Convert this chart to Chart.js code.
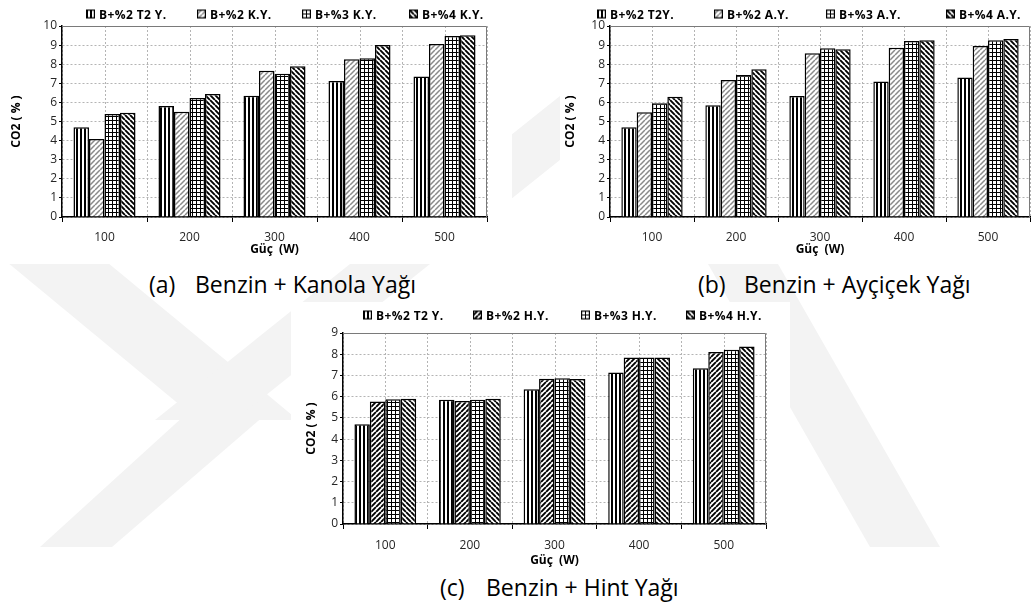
<!DOCTYPE html>
<html lang="tr">
<head>
<meta charset="utf-8">
<title>CO2 (%) - Güç (W)</title>
<script src="https://cdn.jsdelivr.net/npm/chart.js@4.4.1/dist/chart.umd.min.js"></script>
<style>
    html, body { margin: 0; padding: 0; }
    body {
        width: 1035px; height: 610px; position: relative; overflow: hidden;
        background: #fff; font-family: 'Open Sans', sans-serif; color: #000;
    }
    #watermark { position: absolute; left: 0; top: 0; }
    .panel { position: absolute; background: #fff; }
    .legend { position: absolute; left: 0; top: 0; width: 0; height: 0; }
    .legend span {
        position: absolute; display: flex; align-items: center; white-space: nowrap;
        font-size: 12px; font-weight: bold; letter-spacing: 0.4px; transform: translateY(-50%);
    }
    .legend canvas { margin-right: 4px; }
    .caption { position: absolute; font-size: 23px; white-space: nowrap; transform: translateY(-50%); }
</style>
</head>
<body>

<svg id="watermark" width="1035" height="610">
    <g fill="#f3f3f3">
        <polygon points="-310,0 -210,0 298,420 198,420"/>
        <polygon points="680,0 760,0 235,420 155,420"/>
        <polygon points="185,415 265,415 112,547 40,547"/>
        <polygon points="700,250 770,250 940,547 870,547"/>
    </g>
</svg>

<div class="panel" style="left:0;top:0;width:512px;height:264px"><canvas id="chart-a" width="512" height="264"></canvas></div>
<div class="panel" style="left:560px;top:0;width:475px;height:264px"><canvas id="chart-b" width="475" height="264"></canvas></div>
<div class="panel" style="left:291px;top:302px;width:499px;height:266px"><canvas id="chart-c" width="499" height="266"></canvas></div>

<div class="legend" id="legend-a"></div>
<div class="legend" id="legend-b"></div>
<div class="legend" id="legend-c"></div>

<span class="caption" style="left:149px;top:284px">(a)</span>
<span class="caption" style="left:195px;top:284px">Benzin + Kanola Yağı</span>
<span class="caption" style="left:698px;top:284px">(b)</span>
<span class="caption" style="left:744px;top:284px">Benzin + Ayçiçek Yağı</span>
<span class="caption" style="left:440px;top:587px">(c)</span>
<span class="caption" style="left:486px;top:587px">Benzin + Hint Yağı</span>

<script>
// --- Veriler (CO2 %) ---
const categories = ["100", "200", "300", "400", "500"];

const kanolaLabels = ["B+%2 T2 Y.", "B+%2 K.Y.", "B+%3 K.Y.", "B+%4 K.Y."];
const kanolaT2 = [4.70, 5.81, 6.35, 7.12, 7.35];
const kanola2 = [4.08, 5.51, 7.66, 8.26, 9.06];
const kanola3 = [5.39, 6.23, 7.50, 8.31, 9.48];
const kanola4 = [5.46, 6.44, 7.89, 9.00, 9.51];

const aycicekLabels = ["B+%2 T2Y.", "B+%2 A.Y.", "B+%3 A.Y.", "B+%4 A.Y."];
const aycicekT2 = [4.70, 5.85, 6.34, 7.10, 7.31];
const aycicek2 = [5.48, 7.17, 8.57, 8.86, 8.95];
const aycicek3 = [5.95, 7.43, 8.83, 9.21, 9.25];
const aycicek4 = [6.30, 7.73, 8.78, 9.25, 9.32];

const hintLabels = ["B+%2 T2 Y.", "B+%2 H.Y.", "B+%3 H.Y.", "B+%4 H.Y."];
const hintT2 = [4.70, 5.85, 6.35, 7.14, 7.34];
const hint2 = [5.77, 5.80, 6.84, 7.85, 8.10];
const hint3 = [5.88, 5.85, 6.87, 7.85, 8.21];
const hint4 = [5.90, 5.90, 6.83, 7.85, 8.36];

const yTicksAB = [0, 10];
const yTicksC = [0, 9];

Chart.defaults.font.family = "'Open Sans', sans-serif";

// --- Desenler (Excel tarzı tarama) ---
function makePattern(kind) {
    const c = document.createElement("canvas");
    const s = (kind === "vert" || kind === "grid") ? 4 : 5;
    c.width = s;
    c.height = s;
    const g = c.getContext("2d");
    g.fillStyle = "#fff";
    g.fillRect(0, 0, s, s);
    g.fillStyle = "#000";
    if (kind === "vert") {
        g.fillRect(0, 0, 2, s);
    } else if (kind === "grid") {
        g.fillRect(0, 0, s, 1);
        g.fillRect(0, 0, 1, s);
    } else {
        g.strokeStyle = kind === "greySlash" ? "#8a8a8a" : "#000";
        g.lineWidth = kind === "greySlash" ? 1.5 : 1.9;
        g.beginPath();
        for (const o of [-s, 0, s]) {
            if (kind === "back") {
                g.moveTo(o, 0);
                g.lineTo(o + s, s);
            } else {
                g.moveTo(o, s);
                g.lineTo(o + s, 0);
            }
        }
        g.stroke();
    }
    return g.createPattern(c, "repeat");
}

// ara dikey kılavuz çizgileri + üst/sağ çerçeve
const framePlugin = {
    id: "frame",
    beforeDatasetsDraw(chart) {
        const { ctx, chartArea: a, scales: { x } } = chart;
        ctx.save();
        ctx.strokeStyle = "#b4b4b4";
        ctx.lineWidth = 1;
        ctx.setLineDash([2, 2]);
        chart.data.labels.forEach((l, i) => {
            const px = Math.round(x.getPixelForValue(i)) + 0.5;
            ctx.beginPath();
            ctx.moveTo(px, a.top);
            ctx.lineTo(px, a.bottom);
            ctx.stroke();
        });
        ctx.restore();
    },
    afterDatasetsDraw(chart) {
        const { ctx, chartArea: a } = chart;
        ctx.save();
        ctx.strokeStyle = "#7a7a7a";
        ctx.lineWidth = 1;
        ctx.beginPath();
        ctx.moveTo(a.left, Math.round(a.top) + 0.5);
        ctx.lineTo(Math.round(a.right) - 0.5, Math.round(a.top) + 0.5);
        ctx.lineTo(Math.round(a.right) - 0.5, a.bottom);
        ctx.stroke();
        ctx.restore();
    }
};

function buildLegend(id, labels, patterns, lefts, top) {
    const box = document.getElementById(id);
    labels.forEach((text, i) => {
        const item = document.createElement("span");
        item.style.left = lefts[i] + "px";
        item.style.top = top + "px";
        const sw = document.createElement("canvas");
        sw.width = 9;
        sw.height = 9;
        const g = sw.getContext("2d");
        g.fillStyle = patterns[i];
        g.fillRect(0, 0, 9, 9);
        g.strokeStyle = "#000";
        g.lineWidth = 1.2;
        g.strokeRect(0.6, 0.6, 7.8, 7.8);
        item.appendChild(sw);
        item.appendChild(document.createTextNode(text));
        box.appendChild(item);
    });
}

function makeChart(id, labels, series, patterns, yRange, lay) {
    const datasets = series.map((values, i) => ({
        label: labels[i],
        data: values,
        backgroundColor: patterns[i],
        borderColor: "#000",
        borderWidth: 1.5,
        categoryPercentage: 0.73,
        barPercentage: 1.0
    }));

    return new Chart(document.getElementById(id), {
        type: "bar",
        data: { labels: categories, datasets: datasets },
        options: {
            responsive: false,
            animation: false,
            layout: { padding: { top: lay.top, right: lay.right, bottom: 0, left: 0 } },
            plugins: { legend: { display: false }, tooltip: { enabled: false } },
            scales: {
                x: {
                    offset: true,
                    grid: { offset: true, color: "#b4b4b4", tickColor: "#000", tickLength: 5 },
                    border: { color: "#000", width: 1.5, dash: [2, 2] },
                    ticks: { color: "#262626", font: { size: 12 }, padding: lay.xPad },
                    title: {
                        display: true, text: "Güç  (W)", color: "#000",
                        font: { size: 12, weight: "bold" },
                        padding: { top: 0, bottom: lay.xTitlePad }
                    },
                    afterFit: (scale) => { scale.height = lay.xHeight; }
                },
                y: {
                    min: yRange[0],
                    max: yRange[1],
                    grid: { color: "#b4b4b4", tickColor: "#000", tickLength: 3 },
                    border: { color: "#000", width: 1.5, dash: [2, 2] },
                    ticks: { stepSize: 1, color: "#262626", font: { size: 12 }, padding: 2 },
                    title: {
                        display: true, text: "CO2 ( % )", color: "#000",
                        font: { size: 12, weight: "bold" },
                        padding: { top: lay.yTitlePad, bottom: 0 }
                    },
                    afterFit: (scale) => { scale.width = lay.yWidth; }
                }
            }
        },
        plugins: [framePlugin]
    });
}

// --- Grafikler ---
const patA = [makePattern("vert"), makePattern("greySlash"), makePattern("grid"), makePattern("back")];
const patC = [makePattern("vert"), makePattern("slash"), makePattern("grid"), makePattern("back")];

makeChart("chart-a", kanolaLabels, [kanolaT2, kanola2, kanola3, kanola4], patA, yTicksAB,
    { top: 26, right: 25, xHeight: 47, xPad: 8, xTitlePad: 7, yWidth: 62, yTitlePad: 9 });
makeChart("chart-b", aycicekLabels, [aycicekT2, aycicek2, aycicek3, aycicek4], patA, yTicksAB,
    { top: 26, right: 5, xHeight: 47, xPad: 8, xTitlePad: 7, yWidth: 50, yTitlePad: 3 });
makeChart("chart-c", hintLabels, [hintT2, hint2, hint3, hint4], patC, yTicksC,
    { top: 31, right: 24, xHeight: 44, xPad: 9, xTitlePad: 0, yWidth: 52, yTitlePad: 13 });

buildLegend("legend-a", kanolaLabels, patA, [86, 197, 302, 409], 14);
buildLegend("legend-b", aycicekLabels, patA, [597, 714, 826, 946], 14);
buildLegend("legend-c", hintLabels, patC, [363, 473, 581, 686], 315);
</script>
</body>
</html>
